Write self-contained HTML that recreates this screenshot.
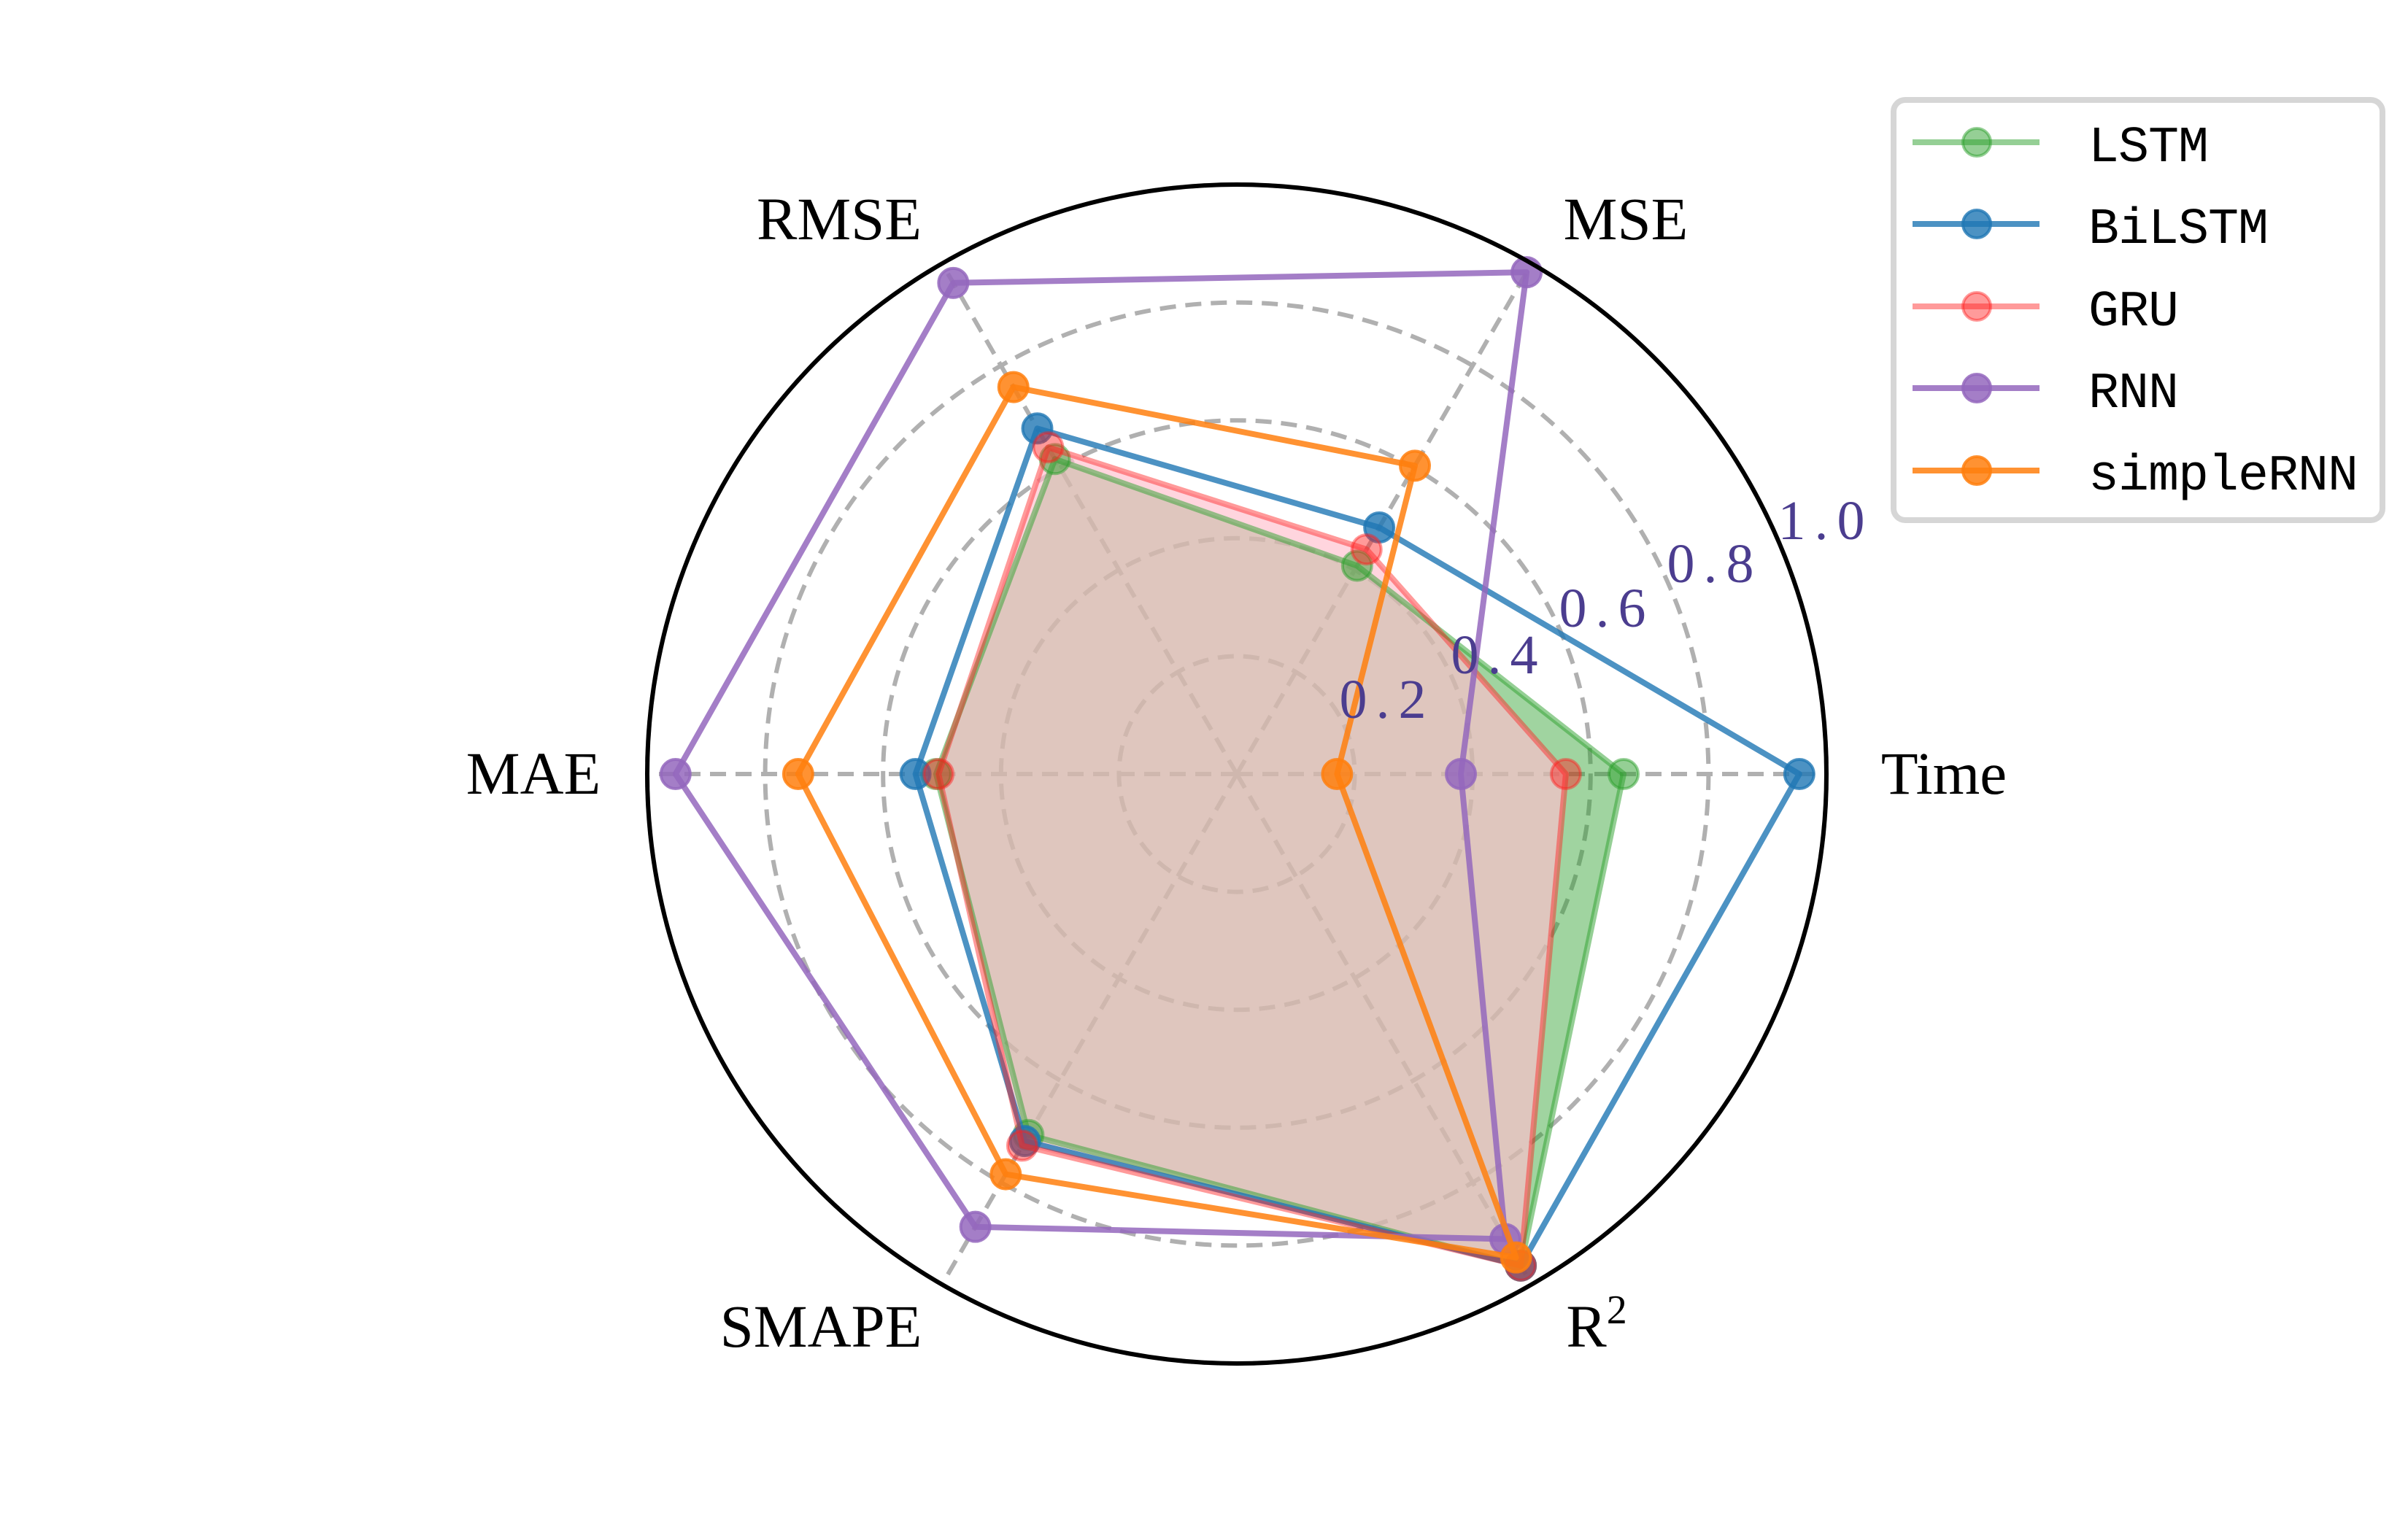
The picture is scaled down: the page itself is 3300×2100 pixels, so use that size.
<!DOCTYPE html>
<html><head><meta charset="utf-8"><style>
html,body{margin:0;padding:0;background:#fff;}
svg{display:block;}
</style></head><body>
<svg id="chart" width="3300" height="2100" viewBox="0 0 3300 2100" xmlns="http://www.w3.org/2000/svg">
<rect width="3300" height="2100" fill="#fff"/>
<g id="grid"></g>
<g id="fills"></g>
<g id="lines"></g>
<circle cx="1695" cy="1061" r="808" fill="none" stroke="#000" stroke-width="6"/>
<g id="ticks"></g>
<g id="axislabels"></g>
<g id="legend"></g>
</svg>
<script>
const categories = ["Time","MSE","RMSE","MAE","SMAPE","R²"];
const seriesNames = ["LSTM","BiLSTM","GRU","RNN","simpleRNN"];
const lstmValues = [0.656,0.408,0.617,0.51,0.707,0.963];
const bilstmValues = [0.954,0.483,0.677,0.545,0.719,0.963];
const gruValues = [0.558,0.44,0.64,0.506,0.728,0.963];
const rnnValues = [0.38,0.983,0.962,0.952,0.887,0.911];
const simpleRnnValues = [0.17,0.604,0.758,0.744,0.784,0.947];
const tickValues = [0.2,0.4,0.6,0.8,1.0];
const tickLabels = ["0.2","0.4","0.6","0.8","1.0"];

const NS="http://www.w3.org/2000/svg";
const CX=1695, CY=1061, R=808;
function rScale(v){return v*R;}
function angle(i){return i*Math.PI*2/categories.length;}
function pt(i,v){const a=angle(i), r=rScale(v);return [CX+r*Math.cos(a), CY-r*Math.sin(a)];}
function mk(tag,attrs,parent){const e=document.createElementNS(NS,tag);for(const k in attrs)e.setAttribute(k,attrs[k]);parent.appendChild(e);return e;}

const grid=document.getElementById('grid');
tickValues.forEach((t,k)=>{
  const c=mk('circle',{cx:CX,cy:CY,r:rScale(t),fill:'none',stroke:'#b0b0b0','stroke-width':6,'stroke-dasharray':'22 13'},grid);
  
  
});
categories.forEach((c,i)=>{
  const p=pt(i,1.0);
  const l=mk('line',{x1:CX,y1:CY,x2:p[0],y2:p[1],stroke:'#b0b0b0','stroke-width':6,'stroke-dasharray':'22 13'},grid);
  
  
});

const styles=[
 {data:lstmValues,color:'#2ca02c',lineOp:0.5,mOp:0.5,fill:'rgba(44,160,44,0.45)'},
 {data:bilstmValues,color:'#1f77b4',lineOp:0.8,mOp:0.8,fill:null},
 {data:gruValues,color:'#ff2020',lineOp:0.45,mOp:0.45,fill:'rgba(255,192,205,0.66)'},
 {data:rnnValues,color:'#9467bd',lineOp:0.85,mOp:0.85,fill:null},
 {data:simpleRnnValues,color:'#ff7f0e',lineOp:0.85,mOp:0.85,fill:null}
];
const fills=document.getElementById('fills'), lines=document.getElementById('lines');
styles.forEach((s,si)=>{
  const pts=s.data.map((v,i)=>pt(i,v));
  const d=pts.map(p=>p[0].toFixed(1)+','+p[1].toFixed(1)).join(' ');
  if(s.fill){
    const f=mk('polygon',{points:d,fill:s.fill,stroke:'none'},fills);
    
    
  }
  const g=mk('g',{},lines);
  
  
  const pl=mk('polygon',{points:d,fill:'none',stroke:s.color,'stroke-opacity':s.lineOp,'stroke-width':8,'stroke-linejoin':'round'},g);
  
  
  pts.forEach((p,i)=>{
    const m=mk('circle',{cx:p[0],cy:p[1],r:20,fill:s.color,'fill-opacity':s.mOp,stroke:s.color,'stroke-opacity':s.mOp,'stroke-width':4},g);
    
    
  });
});

const ticks=document.getElementById('ticks');
const tickPos=[[1901,958],[2054,897],[2202,833],[2350,772],[2502,713]];
tickLabels.forEach((t,k)=>{
  const tx=mk('text',{x:tickPos[k][0],y:tickPos[k][1]+26,'text-anchor':'middle','font-family':'Liberation Serif, serif','font-size':76,'letter-spacing':12,fill:'#4b3d8f'},ticks);
  tx.textContent=t;
  
  
});

const al=document.getElementById('axislabels');
const labelPos=[[2664,1060],[2228,300],[1150,300],[731,1060],[1125,1818],[2188,1818]];
categories.forEach((c,i)=>{
  const tx=mk('text',{x:labelPos[i][0],y:labelPos[i][1]+28,'text-anchor':'middle','font-family':'Liberation Serif, serif','font-size':83,fill:'#000'},al);
  if(c==="R²"){tx.innerHTML='R<tspan dy="-32" font-size="56">2</tspan>';}
  else tx.textContent=c;
  
  
});

const lg=document.getElementById('legend');
const box=mk('rect',{x:2595,y:137,width:670,height:576,rx:16,fill:'#fff',stroke:'#d6d6d6','stroke-width':8},lg);


const legY=[195,307,420,532,645];
styles.forEach((s,si)=>{
  const g=mk('g',{},lg);
  
  
  mk('line',{x1:2621,y1:legY[si],x2:2795,y2:legY[si],stroke:s.color,'stroke-opacity':s.lineOp,'stroke-width':8},g);
  mk('circle',{cx:2709,cy:legY[si],r:19,fill:s.color,'fill-opacity':s.mOp,stroke:s.color,'stroke-opacity':s.mOp,'stroke-width':4},g);
  const tx=mk('text',{x:2862,y:legY[si]+26,'font-family':'Liberation Mono, monospace','font-size':70,'letter-spacing':-1,fill:'#000'},g);
  tx.textContent=seriesNames[si];
});
</script>
</body></html>
